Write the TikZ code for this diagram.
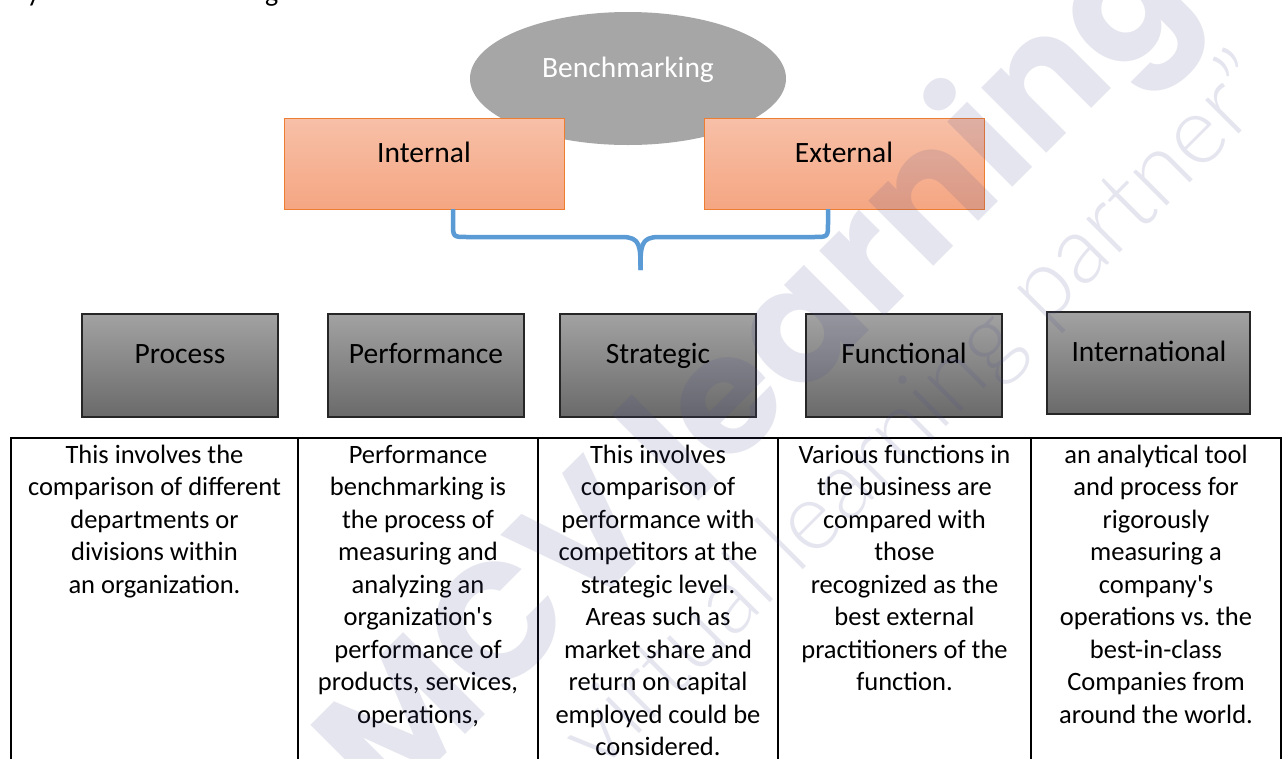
\documentclass[tikz,border=0pt]{standalone}
\usepackage{fontspec}
\setmainfont{Carlito}
\newfontfamily\markfont{Poppins}
\IfFontExistsTF{Lato Light}
  {\newfontfamily\tagfont{Lato Light}}
  {\IfFontExistsTF{Poppins Light}
    {\newfontfamily\tagfont{Poppins Light}}
    {\newfontfamily\tagfont{Lato}}}
\usetikzlibrary{shapes.geometric}
\frenchspacing

\definecolor{ovalgray}{RGB}{166,166,166}
\definecolor{peachtop}{RGB}{247,192,168}
\definecolor{peachbot}{RGB}{245,166,130}
\definecolor{peachline}{RGB}{237,125,49}
\definecolor{greytop}{RGB}{162,162,162}
\definecolor{greybot}{RGB}{106,106,106}
\definecolor{greyline}{RGB}{38,38,38}
\definecolor{braceblue}{RGB}{91,155,213}
\definecolor{markink}{RGB}{70,75,140}

\newcommand{\apos}{\textquotesingle}

\tikzset{
  peachbox/.style={draw=peachline, line width=1pt, top color=peachtop,
    bottom color=peachbot, minimum width=280, minimum height=91, inner sep=0},
  greybox/.style={draw=greyline, line width=1.5pt, top color=greytop,
    bottom color=greybot, minimum width=196, minimum height=103, inner sep=0},
  heading/.style={font=\fontsize{29.5}{36}\selectfont, anchor=base, inner sep=0},
  cell/.style={font=\fontsize{26.5}{32.5}\selectfont, anchor=base, inner sep=0},
  grid/.style={line width=2pt, draw=black},
  brace/.style={line width=4.5pt, draw=braceblue, line join=round},
}

\begin{document}
\begin{tikzpicture}[x=1pt, y=-1pt]
\useasboundingbox (0,0) rectangle (1285,758);
\clip (0,0) rectangle (1285,758);
\fill[white] (0,0) rectangle (1285,758);

% cut-off heading above the picture
\node[font=\fontsize{28}{34}\selectfont, anchor=base west, inner sep=0] (hy) at (27,1) {y};
\node[font=\fontsize{28}{34}\selectfont, anchor=base west, inner sep=0] (hg) at (265,1) {g};

% root oval
\node[ellipse, fill=ovalgray, minimum width=316, minimum height=133, inner sep=0] (root) at (628,78.5) {};
\node[heading, text=white] (roottxt) at (628,77) {Benchmarking};

% internal / external
\node[peachbox] (int) at (424,163.5) {};
\node[peachbox] (ext) at (844,163.5) {};
\node[heading] (inttxt) at (424,162) {Internal};
\node[heading] (exttxt) at (844,162) {External};

% brace joining the two groups
\coordinate (bl) at (453,209);
\coordinate (br) at (828,209);
\coordinate (tip) at (640.5,270);
\draw[brace] (bl) -- (453,223) .. controls (453,237) .. (467,237) -- (622,237)
  .. controls (640.5,237) and (640.5,246) .. (tip);
\draw[brace] (br) -- (828,223) .. controls (828,237) .. (814,237) -- (659,237)
  .. controls (640.5,237) and (640.5,246) .. (tip);

% types
\node[greybox] (proc) at (180,365.5) {};
\node[greybox] (perf) at (426,365.5) {};
\node[greybox] (strat) at (658,365.5) {};
\node[greybox] (func) at (904,365.5) {};
\node[greybox, minimum width=203, minimum height=102] (intl) at (1148.5,363) {};
\node[heading] (proctxt) at (180,363) {Process};
\node[heading] (perftxt) at (426,363) {Performance};
\node[heading] (strattxt) at (658,363) {Strategic};
\node[heading] (functxt) at (904,363) {Functional};
\node[heading] (intltxt) at (1149,361) {International};

% description table
\draw[grid] (11,438) -- (1281,438);
\foreach \gx in {11,298,538,778,1031,1281}
  \draw[grid] (\gx,437) -- (\gx,770);

\foreach \ln [count=\k from 0] in {This involves the, comparison of different,
    departments or, divisions within, an organization.}
  \node[cell] (da-\k) at (154.5,{463+32.5*\k}) {\ln};
\foreach \ln [count=\k from 0] in {Performance, benchmarking is, the process of,
    measuring and, analyzing an, organization\apos s, performance of,
    {products, services,}, {operations,}}
  \node[cell] (db-\k) at (418,{463+32.5*\k}) {\ln};
\foreach \ln [count=\k from 0] in {This involves, comparison of, performance with,
    competitors at the, strategic level., Areas such as, market share and,
    return on capital, employed could be, considered.}
  \node[cell] (dc-\k) at (658,{463+32.5*\k}) {\ln};
\foreach \ln [count=\k from 0] in {Various functions in, the business are,
    compared with, those, recognized as the, best external,
    practitioners of the, function.}
  \node[cell] (dd-\k) at (904.5,{463+32.5*\k}) {\ln};
\foreach \ln [count=\k from 0] in {an analytical tool, and process for, rigorously,
    measuring a, company\apos s, operations vs. the, best-in-class,
    Companies from, around the world.}
  \node[cell] (de-\k) at (1156,{463+32.5*\k}) {\ln};

% watermark
\node[rotate=45, text=markink, opacity=0.14, inner sep=0, anchor=base east,
  font=\markfont\bfseries\fontsize{165}{165}\selectfont] (mark) at (1198,2) {MCV learning};
\node[rotate=45, text=markink, opacity=0.14, inner sep=0, anchor=base east,
  font=\tagfont\fontsize{95}{95}\selectfont] (tag) at (1280,93) {virtual learning partner”};
\end{tikzpicture}
\end{document}
